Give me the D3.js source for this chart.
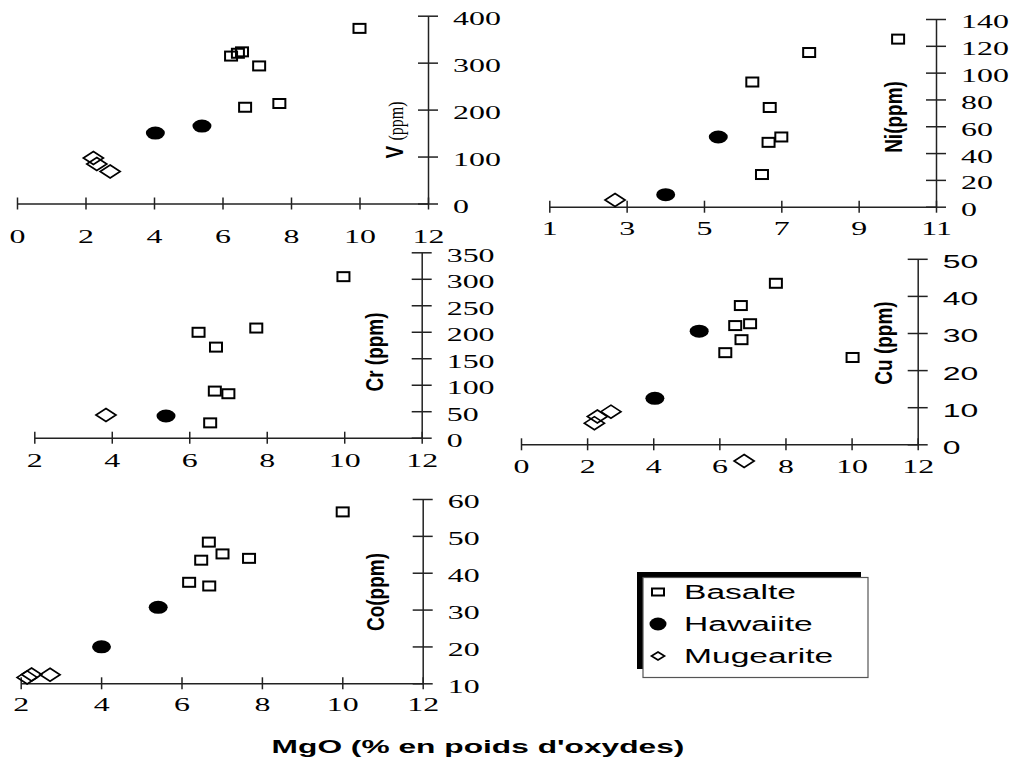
<!DOCTYPE html>
<html><head><meta charset="utf-8">
<script src="https://cdn.jsdelivr.net/npm/d3@7"></script>
<style>body{margin:0;background:#fff}svg{display:block}</style>
</head><body><svg id="c" width="1011" height="762"></svg>
<script>
// ---------- DATA (MgO %, ppm) ----------
const groups = ["Basalte", "Hawaiite", "Mugearite"];

const vBasalte  = [[10.0,373],[6.25,314],[6.45,320],[6.57,323],[7.07,293],[6.66,205],[7.66,213]];
const vHawaiite = [[4.04,150],[5.40,165]];
const vMugearite= [[2.23,97],[2.33,84],[2.72,68]];

const niBasalte  = [[10.02,125],[7.72,115],[6.25,93],[6.70,74],[7.0,52],[6.67,48],[6.5,24]];
const niHawaiite = [[5.37,52],[4.01,9]];
const niMugearite= [[2.70,5]];

const crBasalte  = [[9.98,304],[6.24,199],[7.73,207],[6.69,171],[6.66,88],[7.01,83],[6.54,28]];
const crHawaiite = [[5.40,41]];
const crMugearite= [[3.85,43]];

const cuBasalte  = [[7.71,43.4],[6.65,37.4],[6.48,32],[6.93,32.5],[6.67,28.2],[6.18,24.7],[10.03,23.4]];
const cuHawaiite = [[5.39,30.5],[4.05,12.4]];
const cuMugearite= [[2.31,7.5],[2.22,5.7],[2.72,8.8],[6.75,-4.5]];

const coBasalte  = [[10.01,56.5],[6.68,48.3],[7.02,45.1],[7.68,43.9],[6.49,43.4],[6.19,37.4],[6.69,36.4]];
const coHawaiite = [[5.42,30.6],[4.01,19.9]];
const coMugearite= [[2.27,12.4],[2.16,11.6],[2.73,12.3]];

const xTicksV  = [0,2,4,6,8,10,12];
const yTicksV  = [0,100,200,300,400];
const xTicksNi = [1,3,5,7,9,11];
const yTicksNi = [0,20,40,60,80,100,120,140];
const xTicksCr = [2,4,6,8,10,12];
const yTicksCr = [0,50,100,150,200,250,300,350];
const xTicksCu = [0,2,4,6,8,10,12];
const yTicksCu = [0,10,20,30,40,50];
const xTicksCo = [2,4,6,8,10,12];
const yTicksCo = [10,20,30,40,50,60];

const xTitle = "MgO (% en poids d'oxydes)";

// ---------- LAYOUT ----------
const SERIF = "'Liberation Serif','Times New Roman',serif";
const SANS  = "'Liberation Sans',Arial,sans-serif";
const HS = 1.68; // horizontal stretch of the original

const svg = d3.select("#c");

const panels = [
  {data:[vBasalte,vHawaiite,vMugearite], xd:[0,12], xr:[17,428], yd:[0,400], yr:[203.5,15.7],
   xt:xTicksV, yt:yTicksV, xlOff:39, ylFont:SERIF, label:"V", labelX:403, labelY:130, vlabel:true},
  {data:[niBasalte,niHawaiite,niMugearite], xd:[1,11], xr:[549.3,936], yd:[0,140], yr:[206.7,19],
   xt:xTicksNi, yt:yTicksNi, xlOff:28, ylFont:SERIF, label:"Ni(ppm)", labelX:902, labelY:117},
  {data:[crBasalte,crHawaiite,crMugearite], xd:[2,12], xr:[34.3,421.7], yd:[0,350], yr:[437.7,252.3],
   xt:xTicksCr, yt:yTicksCr, xlOff:29, ylFont:SERIF, label:"Cr (ppm)", labelX:383, labelY:352},
  {data:[cuBasalte,cuHawaiite,cuMugearite], xd:[0,12], xr:[521,917.7], yd:[0,50], yr:[444.3,258.8],
   xt:xTicksCu, yt:yTicksCu, xlOff:29, ylFont:SANS, label:"Cu (ppm)", labelX:892, labelY:343},
  {data:[coBasalte,coHawaiite,coMugearite], xd:[2,12], xr:[20.7,422.7], yd:[10,60], yr:[683.3,499],
   xt:xTicksCo, yt:yTicksCo, xlOff:28, ylFont:SERIF, label:"Co(ppm)", labelX:384, labelY:592}
];

function diamond(rx, ry){ return `M0,${-ry}L${rx},0L0,${ry}L${-rx},0Z`; }

function drawMarker(g, gi, big){
  if (gi === 0) {
    const w = 12, h = big ? 9 : 7;
    g.append("rect").attr("x",-w/2).attr("y",-h/2).attr("width",w).attr("height",h)
      .attr("fill","none").attr("stroke","#000").attr("stroke-width",2);
  } else if (gi === 1) {
    g.append("ellipse").attr("rx", big?9.5:8.5).attr("ry", 6.5).attr("fill","#000");
  } else {
    g.append("path").attr("d", big ? diamond(10,6.5) : diamond(6.5,4))
      .attr("fill","none").attr("stroke","#000").attr("stroke-width",1.7);
  }
}

panels.forEach(p => {
  const x = d3.scaleLinear().domain(p.xd).range(p.xr);
  const y = d3.scaleLinear().domain(p.yd).range(p.yr);

  // x axis
  const gx = svg.append("g")
    .attr("transform", `translate(0,${y(p.yd[0])})`)
    .call(d3.axisBottom(x).tickValues(p.xt).tickSizeOuter(0).tickFormat(d3.format("d")));
  gx.attr("font-family", SERIF).attr("font-size", 19);
  gx.select(".domain").attr("stroke","#222").attr("stroke-width",1.5);
  gx.selectAll(".tick line").attr("y1",-6).attr("y2",6).attr("stroke","#222").attr("stroke-width",1.5);
  gx.selectAll(".tick text").attr("y",null).attr("dy",null).attr("fill","#000")
    .attr("transform",`translate(0,${p.xlOff}) scale(${HS},1)`);

  // y axis
  const gy = svg.append("g")
    .attr("transform", `translate(${x(p.xd[1])},0)`)
    .call(d3.axisRight(y).tickValues(p.yt).tickSizeOuter(0).tickFormat(d3.format("d")));
  gy.attr("font-family", p.ylFont).attr("font-size", 19);
  gy.select(".domain").attr("stroke","#222").attr("stroke-width",1.5);
  gy.selectAll(".tick line").attr("x1",-10).attr("x2",10).attr("stroke","#222").attr("stroke-width",1.5);
  gy.selectAll(".tick text").attr("x",null).attr("dy","0.34em").attr("fill","#000")
    .attr("text-anchor","start")
    .attr("transform",`translate(25,2.5) scale(${HS},1)`);

  // y label
  const lab = svg.append("text")
    .attr("transform",`translate(${p.labelX},${p.labelY}) scale(1.3,1) rotate(-90)`)
    .attr("text-anchor","middle").attr("font-family",SANS).attr("font-weight","bold")
    .attr("font-size",19).attr("fill","#000");
  if (p.vlabel) {
    lab.append("tspan").text("V ");
    lab.append("tspan").attr("font-family",SERIF).attr("font-weight","normal").attr("font-size",16).text("(ppm)");
  } else {
    lab.text(p.label);
  }

  // points
  p.data.forEach((arr, gi) => {
    svg.append("g").selectAll("g").data(arr).join("g")
      .attr("transform", d => `translate(${x(d[0])},${y(d[1])})`)
      .each(function(){ drawMarker(d3.select(this), gi, true); });
  });
});

// x title
svg.append("text")
  .attr("transform",`translate(478,753) scale(1.67,1)`)
  .attr("text-anchor","middle").attr("font-family",SANS).attr("font-weight","bold")
  .attr("font-size",19).attr("fill","#000").text(xTitle);

// legend
const lg = svg.append("g");
lg.append("rect").attr("x",637).attr("y",572).attr("width",224).attr("height",97).attr("fill","#000");
lg.append("rect").attr("x",643).attr("y",577.5).attr("width",225).attr("height",100)
  .attr("fill","#fff").attr("stroke","#555").attr("stroke-width",1.2);
const legY = d3.scalePoint().domain(groups).range([592,656]);
groups.forEach((name, gi) => {
  const cy = legY(name);
  const m = lg.append("g").attr("transform",`translate(658,${cy})`);
  drawMarker(m, gi, false);
  lg.append("text").attr("transform",`translate(684,${cy}) scale(1.68,1)`)
    .attr("dy","0.36em").attr("font-family",SANS).attr("font-size",20).attr("fill","#000").text(name);
});
</script></body></html>
